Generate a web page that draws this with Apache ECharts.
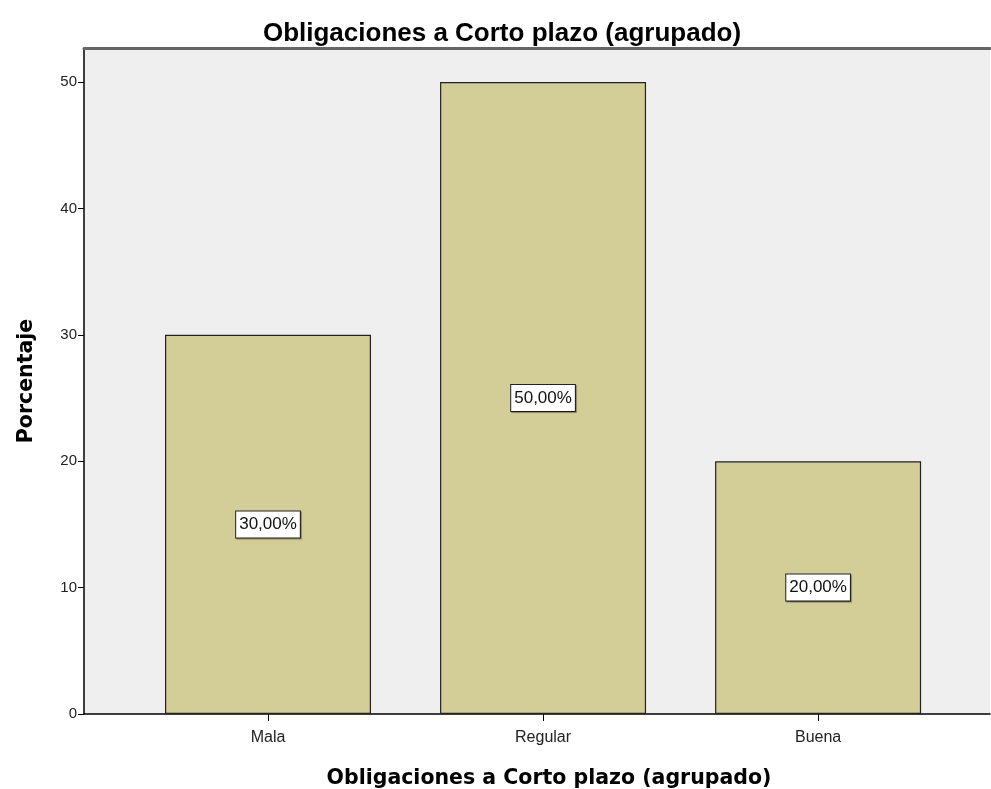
<!DOCTYPE html>
<html>
<head>
<meta charset="utf-8">
<script src="https://cdn.jsdelivr.net/npm/echarts@6/dist/echarts.min.js"></script>
<style>
  html, body { margin: 0; padding: 0; background: #fff; }
  #chart { width: 991px; height: 789px; }
</style>
</head>
<body>
<div id="chart"></div>
<script>
var categories = ['Mala', 'Regular', 'Buena'];
var percentages = [30, 50, 20];
var yTicks = [0, 10, 20, 30, 40, 50];

var chart = echarts.init(document.getElementById('chart'));

// bars sit at x = 1, 2, 3 on a numeric axis so the padding of the plot can match
var barData = percentages.map(function (v, i) { return [i + 1, v]; });
var catPositions = categories.map(function (c, i) { return i + 1; });

var option = {
    animation: false,
    textStyle: { fontFamily: 'Arial, "Liberation Sans", sans-serif' },
    title: [
        {
            text: 'Obligaciones a Corto plazo (agrupado)',
            left: 497, top: 16, textAlign: 'center',
            textStyle: { fontSize: 26, fontWeight: 'bold', color: '#000', fontFamily: '"Liberation Sans", Arial, sans-serif' }
        },
        {
            text: 'Obligaciones a Corto plazo (agrupado)',
            left: 544, top: 763, textAlign: 'center',
            textStyle: { fontSize: 20.5, fontWeight: 'bold', color: '#000', fontFamily: '"DejaVu Sans", Verdana, sans-serif' }
        }
    ],
    grid: {
        left: 84, right: 1, top: 48, bottom: 75,
        show: true, backgroundColor: '#efefef', borderWidth: 0
    },
    xAxis: [
        {
            type: 'value',
            min: 0.331, max: 3.625,
            splitLine: { show: false },
            axisLine: { show: true, lineStyle: { color: '#000', width: 1.5 } },
            axisTick: { show: true, customValues: catPositions, length: 7, lineStyle: { color: '#000' } },
            axisLabel: {
                show: true, customValues: catPositions, margin: 16,
                color: '#222', fontSize: 16,
                formatter: function (v) { return categories[Math.round(v) - 1] || ''; }
            }
        },
        {
            type: 'value', position: 'top',
            min: 0.331, max: 3.625,
            splitLine: { show: false },
            axisLine: { show: true, lineStyle: { color: '#666', width: 3 } },
            axisTick: { show: false },
            axisLabel: { show: false }
        }
    ],
    yAxis: {
        type: 'value',
        min: 0, max: 52.7, interval: 10,
        name: 'Porcentaje',
        nameLocation: 'middle', nameGap: 47, nameRotate: 90,
        nameTextStyle: { fontSize: 20.5, fontWeight: 'bold', color: '#000', fontFamily: '"DejaVu Sans", Verdana, sans-serif' },
        splitLine: { show: false },
        axisLine: { show: true, lineStyle: { color: '#000', width: 1.5 } },
        axisTick: { show: true, customValues: yTicks, length: 6, lineStyle: { color: '#000' } },
        axisLabel: {
            color: '#222', fontSize: 15, margin: 7,
            customValues: yTicks
        }
    },
    series: [
        {
            type: 'bar',
            data: barData,
            barWidth: 206,
            itemStyle: { color: '#d3ce98', borderColor: '#222', borderWidth: 1.2 },
            label: {
                show: true, position: 'inside',
                formatter: function (p) { return p.value[1].toFixed(2).replace('.', ',') + '%'; },
                color: '#111', fontSize: 17,
                backgroundColor: '#fff', borderColor: '#222', borderWidth: 1,
                padding: [5, 3, 4, 3],
                shadowColor: 'rgba(0,0,0,0.35)', shadowOffsetX: 1, shadowOffsetY: 1, shadowBlur: 1
            }
        }
    ]
};

chart.setOption(option);
</script>
</body>
</html>
